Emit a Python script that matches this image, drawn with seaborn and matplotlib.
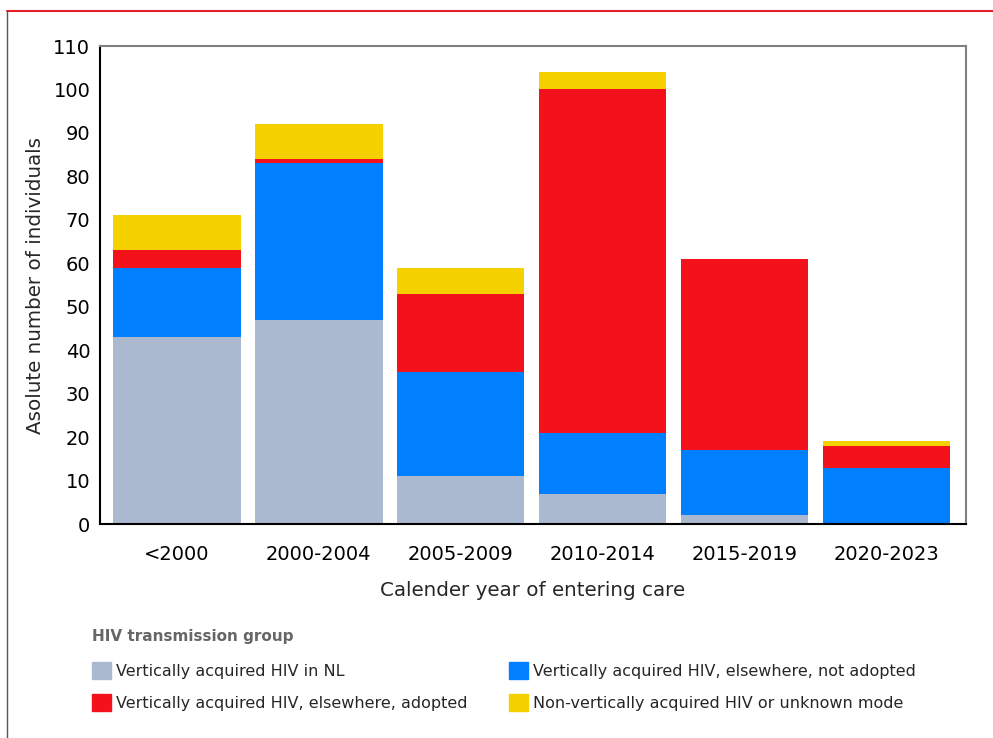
import numpy as np
import pandas as pd
import matplotlib.pyplot as plt
import seaborn as sns
from matplotlib.patches import Patch
from matplotlib.lines import Line2D

periods = ["<2000", "2000-2004", "2005-2009", "2010-2014", "2015-2019", "2020-2023"]
vert_nl = [43, 47, 11, 7, 2, 0]
vert_not_adopted = [16, 36, 24, 14, 15, 13]
vert_adopted = [4, 1, 18, 79, 44, 5]
non_vertical = [8, 8, 6, 4, 0, 1]

groups = ["Vertically acquired HIV in NL",
          "Vertically acquired HIV, elsewhere, not adopted",
          "Vertically acquired HIV, elsewhere, adopted",
          "Non-vertically acquired HIV or unknown mode"]
colors = ["#ABB9D0", "#007FFF", "#F3121B", "#F6D100"]

sns.set_style("white")
plt.rcParams['font.family'] = ['DejaVu Sans']

fig = plt.figure(figsize=(9.93, 7.38), dpi=100)
ax = fig.add_axes([100 / 993, 1 - 524 / 738, 866 / 993, 478 / 738])

# stacked bars, one layer per transmission group
series = [vert_nl, vert_not_adopted, vert_adopted, non_vertical]
bottom = np.zeros(len(periods))
for vals, col in zip(series, colors):
    sns.barplot(x=periods, y=vals, bottom=bottom, color=col, width=0.9,
                saturation=1, ax=ax, linewidth=0)
    bottom = bottom + np.array(vals)

ax.set_xlim(-0.54, 5.56)
ax.set_ylim(0, 110)
ax.set_yticks(range(0, 111, 10))
ax.tick_params(axis="both", labelsize=14, length=4, width=1.2, direction="out",
               colors="black")
ax.tick_params(axis="x", pad=11)
ax.tick_params(axis="y", pad=3)
ax.set_xlabel("Calender year of entering care", fontsize=14.3, labelpad=12)
ax.set_ylabel("Asolute number of individuals", fontsize=14.3, labelpad=6)

for s in ["left", "bottom"]:
    ax.spines[s].set_color("black")
    ax.spines[s].set_linewidth(1.5)
for s in ["top", "right"]:
    ax.spines[s].set_color("#808080")
    ax.spines[s].set_linewidth(1.5)

# outer frame lines
fig.add_artist(Line2D([7 / 993, 1], [1 - 11 / 738, 1 - 11 / 738], color="#E3202A", lw=1.5))
fig.add_artist(Line2D([7 / 993, 7 / 993], [0, 1 - 11 / 738], color="#555555", lw=1.0))

handles = [Patch(color=colors[i], label=groups[i]) for i in [0, 2, 1, 3]]
leg = fig.legend(handles=handles, ncol=2, loc="upper left",
                 bbox_to_anchor=(78 / 993, 1 - 615 / 738), frameon=False,
                 title="HIV transmission group", fontsize=11.5,
                 title_fontproperties={"weight": "bold", "size": 11},
                 handlelength=1.15, handleheight=1.2, handletextpad=0.35,
                 columnspacing=2.6, labelspacing=0.95, alignment="left")
leg.get_title().set_color("#666666")
leg._legend_box.sep = 13

fig.savefig("out.png", dpi=100)
